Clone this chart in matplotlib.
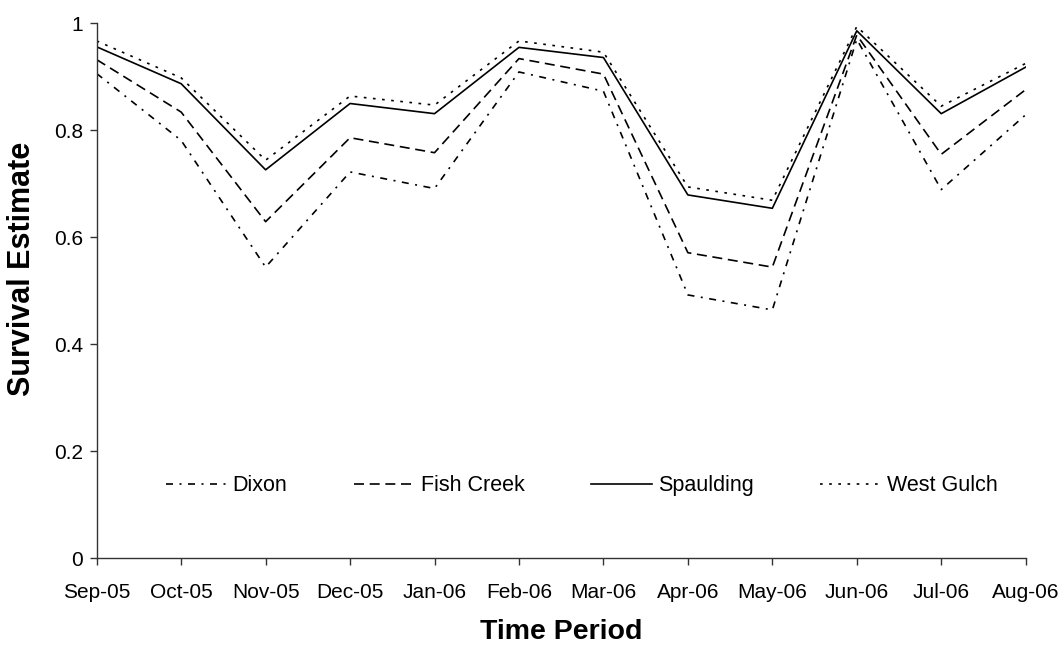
import matplotlib
matplotlib.use("Agg")
import matplotlib.pyplot as plt

periods = ["Sep-05", "Oct-05", "Nov-05", "Dec-05", "Jan-06", "Feb-06",
           "Mar-06", "Apr-06", "May-06", "Jun-06", "Jul-06", "Aug-06"]
dixon = [0.906, 0.781, 0.544, 0.722, 0.691, 0.909, 0.873, 0.492, 0.464, 0.970, 0.689, 0.829]
fish_creek = [0.932, 0.834, 0.629, 0.786, 0.758, 0.934, 0.905, 0.571, 0.544, 0.978, 0.755, 0.876]
spaulding = [0.956, 0.887, 0.726, 0.850, 0.831, 0.955, 0.936, 0.679, 0.654, 0.986, 0.831, 0.918]
west_gulch = [0.967, 0.898, 0.744, 0.864, 0.847, 0.967, 0.946, 0.694, 0.669, 0.994, 0.845, 0.925]
y_ticks = [0, 0.2, 0.4, 0.6, 0.8, 1]
y_ticklabels = ["0", "0.2", "0.4", "0.6", "0.8", "1"]

plt.rcParams['font.family'] = ['Liberation Sans', 'DejaVu Sans']

fig = plt.figure(figsize=(10.61, 6.46), dpi=100)
# axes: x from 96.7 to 1025.7 px, y=0 at 558 px, y=1 at 23.3 px
ax = fig.add_axes([96.7 / 1061, 1 - 558 / 646, 929 / 1061, 534.7 / 646])

x = list(range(len(periods)))
lw = 1.2
ax.plot(x, dixon, color='black', lw=lw, linestyle=(0, (4.2, 3.9, 1.2, 3.9)), label='Dixon')
ax.plot(x, fish_creek, color='black', lw=lw, linestyle=(0, (6, 3.4)), label='Fish Creek')
ax.plot(x, spaulding, color='black', lw=lw, linestyle='-', label='Spaulding')
ax.plot(x, west_gulch, color='black', lw=lw, linestyle=(0, (1.6, 3.9)), label='West Gulch')

ax.set_xlim(0, len(periods) - 1)
ax.set_ylim(0, 1)
ax.set_xticks(x)
ax.set_xticklabels(periods, fontsize=15)
ax.set_yticks(y_ticks)
ax.set_yticklabels(y_ticklabels, fontsize=15)

for s in ['top', 'right']:
    ax.spines[s].set_visible(False)
for s in ['left', 'bottom']:
    ax.spines[s].set_color('#333333')
    ax.spines[s].set_linewidth(1.0)
ax.tick_params(axis='both', direction='out', length=5, color='#333333', width=1.0)
ax.tick_params(axis='x', pad=13)
ax.tick_params(axis='y', pad=5)

ax.set_xlabel('Time Period', fontsize=20.5, fontweight='bold', labelpad=12)
ax.set_ylabel('Survival Estimate', fontsize=22, fontweight='bold')
ax.yaxis.set_label_coords(-0.064, 0.54)

ax.legend(loc='center', bbox_to_anchor=(0.522, 0.135), ncol=4, frameon=False,
          fontsize=15.5, handlelength=2.85, handletextpad=0.25, columnspacing=3.1)

fig.savefig('out.png', dpi=100)
